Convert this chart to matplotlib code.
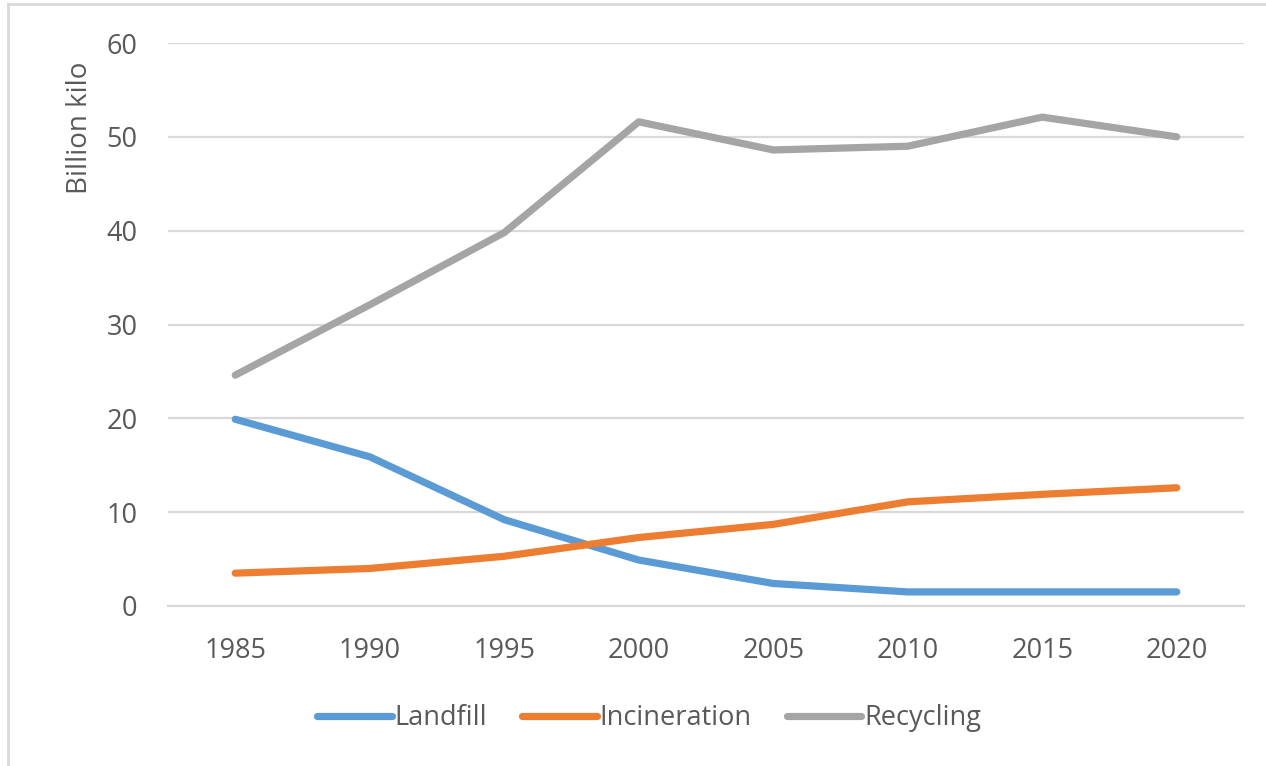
import matplotlib

matplotlib.use("Agg")
import matplotlib.pyplot as plt
from matplotlib.lines import Line2D

YEARS = [1985, 1990, 1995, 2000, 2005, 2010, 2015, 2020]
LANDFILL = [19.9, 15.9, 9.2, 4.9, 2.4, 1.5, 1.5, 1.5]
INCINERATION = [3.5, 4.0, 5.3, 7.3, 8.7, 11.1, 11.9, 12.6]
RECYCLING = [24.6, 32.1, 39.8, 51.6, 48.6, 49.0, 52.1, 50.0]

SERIES = ["Landfill", "Incineration", "Recycling"]
COLORS = {"Landfill": "#5b9bd5", "Incineration": "#ed7d31", "Recycling": "#a5a5a5"}
TEXT = "#595959"
GRID = "#d9d9d9"
FS = 19.5

plt.rcParams["font.family"] = ["Open Sans", "DejaVu Sans"]

fig = plt.figure(figsize=(12.66, 7.66), dpi=100)
ax = fig.add_axes([168 / 1266, 1 - 606 / 766, (1244 - 168) / 1266, (606 - 43) / 766])

values = {"Landfill": LANDFILL, "Incineration": INCINERATION, "Recycling": RECYCLING}
for name in SERIES:
    ax.plot(YEARS, values[name], color=COLORS[name], lw=5.2,
            solid_capstyle="round", solid_joinstyle="round", label=name, zorder=3)

ax.set_xlim(1982.5, 2022.5)
ax.set_ylim(0, 60)
ax.set_xticks(YEARS)
ax.set_yticks(range(0, 61, 10))
ax.tick_params(axis="both", length=0, labelsize=FS, colors=TEXT)
ax.tick_params(axis="x", pad=22)
ax.tick_params(axis="y", pad=22)
ax.yaxis.grid(True, color=GRID, lw=1.6)
ax.set_axisbelow(True)
for sp in ("top", "right", "left"):
    ax.spines[sp].set_visible(False)
ax.spines["bottom"].set_color(GRID)
ax.spines["bottom"].set_linewidth(1.6)

ax.set_ylabel("Billion kilo", fontsize=FS + 0.5, color=TEXT)
ax.yaxis.set_label_coords(-88 / 1076, 1 - 85 / 563)
ax.yaxis.label.set_va("center")

fig.legend(loc="center", bbox_to_anchor=(649 / 1266, 1 - 718 / 766), ncol=3,
           frameon=False, fontsize=FS, labelcolor=TEXT, handlelength=2.75,
           handletextpad=0.1, columnspacing=1.3)

# light frame round the chart area
fig.add_artist(Line2D([8 / 1266, 1], [1 - 4 / 766] * 2, transform=fig.transFigure,
                      color=GRID, lw=2))
fig.add_artist(Line2D([8 / 1266] * 2, [0, 1 - 4 / 766], transform=fig.transFigure,
                      color=GRID, lw=2))

fig.savefig("out.png", dpi=100)
